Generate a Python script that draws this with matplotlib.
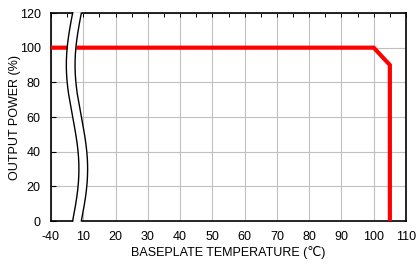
import numpy as np
import matplotlib
matplotlib.use("Agg")
import matplotlib.pyplot as plt

# ---- data ----
temperature = [-40, 100, 105, 105]
output_power = [100, 100, 90, 0]
x_tick_temps = [-40, 10, 20, 30, 40, 50, 60, 70, 80, 90, 100, 110]
y_ticks = [0, 20, 40, 60, 80, 100, 120]


def to_pos(t):
    """Broken axis: -40..10 squeezed into one 10-unit interval."""
    t = np.asarray(t, dtype=float)
    return np.where(t >= 10, t, (t + 40) / 5.0)


plt.rcParams['font.family'] = ['Liberation Sans', 'DejaVu Sans']
fig = plt.figure(figsize=(4.17, 2.64), dpi=100)
ax = fig.add_axes([51 / 417, 1 - 221 / 264, (406 - 51) / 417, (221 - 13) / 264])

ax.set_xlim(0, 110)
ax.set_ylim(0, 120)

ax.plot(to_pos(temperature), output_power, color='#ff0000', lw=3.0,
        solid_joinstyle='miter', solid_capstyle='butt', zorder=3, clip_on=False)

xt = to_pos(x_tick_temps)
ax.set_xticks(xt)
ax.set_xticklabels([str(t) for t in x_tick_temps])
ax.set_yticks(y_ticks)
ax.set_xticks(np.arange(5, 110, 5), minor=True)

ax.grid(True, which='major', color='#c0c0c0', lw=0.8, zorder=1)
ax.set_axisbelow(True)

ax.tick_params(axis='x', which='major', direction='in', length=3, width=0.7,
               pad=7.5, labelsize=9, top=True, bottom=False, labeltop=False)
ax.tick_params(axis='x', which='minor', direction='in', length=3, bottom=False,
               top=True, width=0.7)
ax.tick_params(axis='y', direction='in', length=3.5, pad=7.5, labelsize=9, width=0.8)

for s in ax.spines.values():
    s.set_linewidth(1.2)
    s.set_color('black')

ax.set_xlabel('BASEPLATE TEMPERATURE (℃)', fontsize=9, labelpad=2)
ax.set_ylabel('OUTPUT POWER (%)', fontsize=9, labelpad=-1)

# ---- axis break decoration ----
yy = np.linspace(-0.8, 120.8, 300)
left = 6.7 + 1.95 * np.sin(2 * np.pi * yy / 120.0)
right = left + 2.7
ax.fill_betweenx(yy, left, right, color='white', zorder=6, clip_on=False, lw=0)
m = (yy >= 0) & (yy <= 120)
ax.plot(left[m], yy[m], color='black', lw=1.0, zorder=7, clip_on=False)
ax.plot(right[m], yy[m], color='black', lw=1.0, zorder=7, clip_on=False)

fig.savefig('out.png', dpi=100)
